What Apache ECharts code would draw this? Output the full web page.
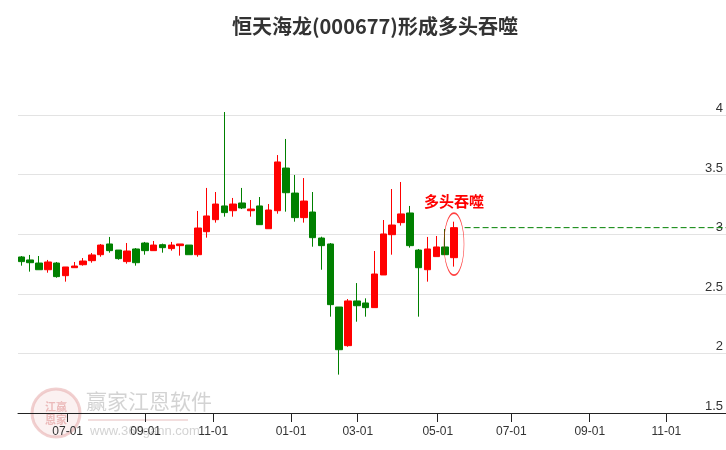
<!DOCTYPE html>
<html>
<head>
<meta charset="utf-8">
<script src="https://cdn.jsdelivr.net/npm/echarts@6/dist/echarts.min.js"></script>
<style>html,body{margin:0;padding:0;background:#fff;}#c{width:726px;height:450px;}</style>
</head>
<body>
<div id="c"></div>
<script>
// Weekly candles (index = trading week)
const opens  = [2.809,2.784,2.758,2.702,2.758,2.652,2.719,2.744,2.778,2.828,2.918,2.867,2.770,2.876,2.926,2.862,2.912,2.879,2.904,2.909,2.828,3.021,3.122,3.237,3.197,3.262,3.197,3.237,3.046,3.197,3.555,3.345,3.139,3.186,2.968,2.918,2.389,2.065,2.440,2.423,2.384,2.658,2.996,3.097,3.178,2.867,2.702,2.812,2.893,2.803];
const closes = [2.770,2.761,2.702,2.767,2.644,2.725,2.733,2.775,2.826,2.909,2.862,2.795,2.859,2.761,2.862,2.909,2.887,2.909,2.918,2.828,3.052,3.153,3.253,3.181,3.253,3.220,3.211,3.080,3.203,3.606,3.348,3.139,3.278,2.971,2.904,2.409,2.031,2.440,2.400,2.384,2.666,3.002,3.077,3.170,2.904,2.719,2.876,2.893,2.828,3.055];
const lows   = [2.736,2.686,2.702,2.677,2.635,2.602,2.719,2.736,2.761,2.811,2.845,2.786,2.753,2.736,2.828,2.862,2.845,2.862,2.820,2.828,2.811,2.971,3.097,3.147,3.147,3.211,3.147,3.080,3.046,3.172,3.189,3.105,3.097,2.895,2.702,2.308,1.822,2.056,2.266,2.308,2.384,2.658,2.828,3.072,2.887,2.308,2.602,2.812,2.828,2.728];
const highs  = [2.817,2.826,2.817,2.784,2.767,2.725,2.767,2.800,2.842,2.918,2.977,2.867,2.926,2.884,2.935,2.943,2.921,2.935,2.918,2.909,3.195,3.388,3.354,4.025,3.304,3.388,3.287,3.312,3.253,3.664,3.799,3.497,3.471,3.354,2.979,2.926,2.389,2.456,2.590,2.462,2.859,3.119,3.379,3.438,3.237,2.876,2.977,2.985,3.044,3.105];

// x-axis month ticks (in trading-week units) and their labels
const tickWeeks  = [5.25,14.09,21.74,30.54,38.10,47.16,55.49,64.37,73.05];
const tickLabels = ['07-01','09-01','11-01','01-01','03-01','05-01','07-01','09-01','11-01'];

const title = '恒天海龙(000677)形成多头吞噬';
const patternName = '多头吞噬';

const candleData = opens.map((o, i) => [i, o, closes[i], lows[i], highs[i]]);
const last = opens.length - 1;
const lastClose = closes[last];
const X_MAX = 79.8;
const DASH_GREEN = '#008000';

const chart = echarts.init(document.getElementById('c'), null, {renderer: 'canvas'});
chart.setOption({
  animation: false,
  backgroundColor: '#fff',
  title: {
    text: title,
    left: 227,
    top: 11,
    textStyle: {fontFamily: 'Noto Sans CJK SC', fontWeight: 'bold', fontSize: 20, color: '#333'}
  },
  grid: {left: 18, right: 0, top: 115, bottom: 37},
  xAxis: {
    type: 'value',
    min: -0.37,
    max: X_MAX,
    axisLine: {show: true, onZero: false, lineStyle: {color: '#222', width: 1}},
    axisTick: {show: true, length: 9, customValues: tickWeeks, lineStyle: {color: '#222'}},
    axisLabel: {
      customValues: tickWeeks,
      margin: 13,
      fontSize: 12,
      fontFamily: 'Liberation Sans',
      color: '#333',
      formatter: function (v) {
        let best = 0, bd = 1e9;
        tickWeeks.forEach((t, k) => { const d = Math.abs(t - v); if (d < bd) { bd = d; best = k; } });
        return tickLabels[best];
      }
    },
    splitLine: {show: false}
  },
  yAxis: {
    type: 'value',
    position: 'right',
    min: 1.5,
    max: 4,
    interval: 0.5,
    axisLine: {show: false},
    axisTick: {show: false},
    axisLabel: {inside: true, margin: 3, verticalAlign: 'bottom', fontSize: 13, fontFamily: 'Liberation Sans', color: '#333'},
    splitLine: {show: true, lineStyle: {color: '#e3e3e3', width: 1}}
  },
  graphic: [
    {type: 'circle', shape: {cx: 56, cy: 413, r: 24}, style: {fill: 'rgba(240,200,200,0.25)', stroke: 'rgba(230,170,170,0.55)', lineWidth: 3}, z: 0},
    {type: 'text', x: 56, y: 413, style: {text: '江赢\n恩家', font: 'bold 11px "Noto Sans CJK SC"', fill: 'rgba(225,150,150,0.6)', align: 'center', verticalAlign: 'middle', lineHeight: 13}, z: 0},
    {type: 'text', x: 86, y: 391, style: {text: '赢家江恩软件', font: '21px "Noto Sans CJK SC"', fill: 'rgba(200,200,200,0.8)'}, z: 0},
    {type: 'rect', shape: {x: 88, y: 419, width: 100, height: 2}, style: {fill: 'rgba(235,200,200,0.6)'}, z: 0},
    {type: 'text', x: 90, y: 425, style: {text: 'www.360gann.com', font: '13px "Liberation Sans"', fill: 'rgba(200,200,200,0.8)'}, z: 0}
  ],
  series: [{
    type: 'candlestick',
    data: candleData,
    barWidth: 7,
    clip: false,
    itemStyle: {color: '#ff0000', color0: '#008000', borderColor: '#ff0000', borderColor0: '#008000', borderWidth: 1},
    markPoint: {
      silent: true,
      data: [
        {coord: [last, (highs[last] + lows[last]) / 2], symbol: 'circle', symbolSize: [20, 62],
         itemStyle: {color: 'rgba(0,0,0,0)', borderColor: 'rgba(255,0,0,0.75)', borderWidth: 1}, label: {show: false}},
        {coord: [last, highs[last] + 0.17], symbol: 'circle', symbolSize: 0,
         label: {show: true, position: 'inside', formatter: patternName, color: '#ff0000', fontWeight: 'bold', fontSize: 15, fontFamily: 'Noto Sans CJK SC'}}
      ]
    }
  }, {
    type: 'line',
    name: 'close-level',
    data: [[last + 1.2, lastClose], [X_MAX, lastClose]],
    symbol: 'none',
    silent: true,
    color: DASH_GREEN,
    lineStyle: {color: DASH_GREEN, type: [6, 3], width: 1},
    z: 3
  }]
});
</script>
</body>
</html>
